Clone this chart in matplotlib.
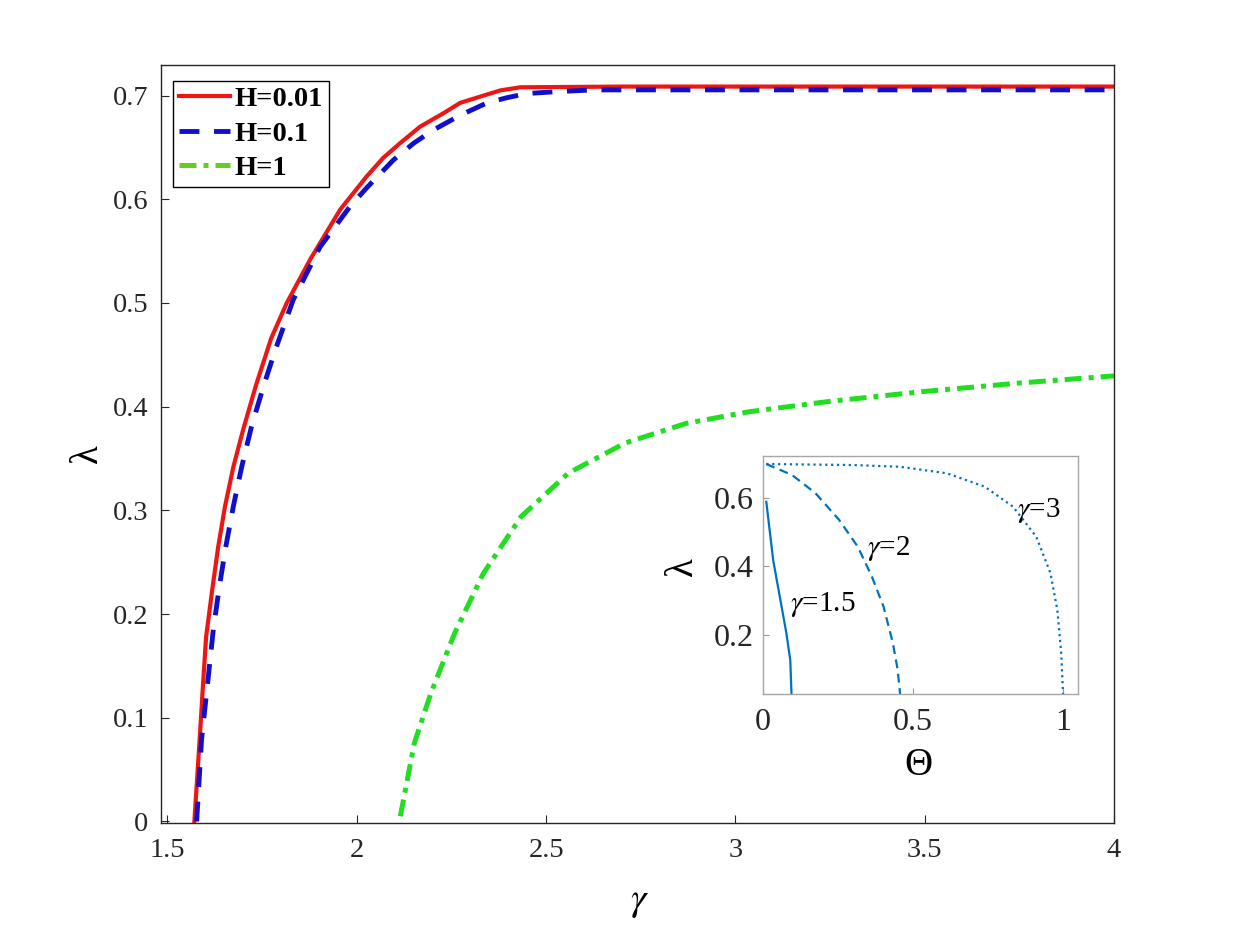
import numpy as np
import matplotlib
matplotlib.use("Agg")
from matplotlib import pyplot as plt

# main curves: lambda vs gamma for three H values
gamma_h001 = [1.571, 1.577, 1.586, 1.594, 1.602, 1.618, 1.634, 1.652, 1.674, 1.700,
              1.734, 1.774, 1.815, 1.877, 1.956, 1.991, 2.026, 2.070, 2.114, 2.167,
              2.229, 2.273, 2.326, 2.379, 2.432, 2.7, 3.0, 3.5, 4.0]
lam_h001 = [0.0, 0.034, 0.085, 0.133, 0.178, 0.223, 0.265, 0.304, 0.342, 0.378,
            0.421, 0.466, 0.500, 0.542, 0.590, 0.606, 0.622, 0.640, 0.654, 0.670,
            0.683, 0.693, 0.699, 0.705, 0.708, 0.7087, 0.7087, 0.7087, 0.7087]

gamma_h01 = [1.577, 1.590, 1.608, 1.621, 1.637, 1.654, 1.674, 1.696, 1.722, 1.753,
             1.785, 1.832, 1.903, 1.982, 2.026, 2.097, 2.150, 2.203, 2.273, 2.344,
             2.397, 2.449, 2.538, 2.626, 3.0, 3.5, 4.0]
lam_h01 = [0.0, 0.079, 0.140, 0.185, 0.2265, 0.265, 0.304, 0.342, 0.381, 0.419,
           0.455, 0.503, 0.554, 0.593, 0.611, 0.638, 0.654, 0.667, 0.681, 0.693,
           0.698, 0.702, 0.704, 0.7055, 0.7055, 0.7055, 0.7055]

gamma_h1 = [2.115, 2.152, 2.196, 2.259, 2.334, 2.434, 2.559, 2.709, 2.871, 3.034,
            3.246, 3.496, 3.746, 4.0]
lam_h1 = [0.005, 0.0755, 0.124, 0.182, 0.239, 0.294, 0.336, 0.365, 0.384, 0.395,
          0.405, 0.4146, 0.4227, 0.4297]

labels = ['H=0.01', 'H=0.1', 'H=1']

# inset: lambda vs Theta
theta_g15 = [0.011, 0.034, 0.058, 0.078, 0.091, 0.095]
lam_g15 = [0.588, 0.418, 0.302, 0.205, 0.127, 0.028]

theta_g2 = [0.011, 0.097, 0.175, 0.254, 0.316, 0.363, 0.402, 0.433, 0.449, 0.457]
lam_g2 = [0.698, 0.666, 0.613, 0.535, 0.457, 0.370, 0.282, 0.176, 0.098, 0.028]

theta_g3 = [0.011, 0.30, 0.457, 0.613, 0.739, 0.833, 0.911, 0.958, 0.981, 0.994, 1.0]
lam_g3 = [0.698, 0.695, 0.690, 0.671, 0.632, 0.574, 0.486, 0.380, 0.273, 0.147, 0.028]

plt.rcParams['font.family'] = ['Liberation Serif', 'DejaVu Serif']
plt.rcParams['mathtext.fontset'] = 'stix'

fig = plt.figure(figsize=(12.36, 9.26), dpi=100)
ax = fig.add_axes([0.1303, 0.1112, 0.771, 0.8186])

ax.plot(gamma_h001, lam_h001, color='#ee1515', lw=3.0, label=labels[0])
ax.plot(gamma_h01, lam_h01, color='#1010cc', lw=3.5, dashes=(4.1, 3.0), label=labels[1])
ax.plot(gamma_h1, lam_h1, color='#22dd22', lw=3.6, dashes=(3.4, 1.4, 1.0, 1.4), label=labels[2])

ax.set_xlim(1.483, 4.0)
ax.set_ylim(-0.0015, 0.7295)
ax.set_xticks([1.5, 2, 2.5, 3, 3.5, 4])
ax.set_xticklabels(['1.5', '2', '2.5', '3', '3.5', '4'])
ax.set_yticks([0, 0.1, 0.2, 0.3, 0.4, 0.5, 0.6, 0.7])
ax.set_yticklabels(['0', '0.1', '0.2', '0.3', '0.4', '0.5', '0.6', '0.7'])
ax.tick_params(direction='in', length=6, width=0.8, labelsize=20.5, colors='#262626')
ax.tick_params(axis='x', pad=11)
ax.tick_params(axis='y', pad=9)
for s in ax.spines.values():
    s.set_color('#262626')
    s.set_linewidth(1.0)

ax.text(0.5026, -0.104, r'$\gamma$', transform=ax.transAxes, ha='center', va='center',
        fontsize=28)
ax.text(-0.077, 0.488, 'λ', transform=ax.transAxes, ha='center', va='center',
        fontsize=28, rotation=90)

leg = ax.legend(loc='upper left', bbox_to_anchor=(0.0129, 0.9793), borderaxespad=0,
                prop={'weight': 'bold', 'size': 20.5}, fancybox=False, framealpha=1,
                edgecolor='black', handlelength=1.8, handletextpad=0.15,
                labelspacing=0.3, borderpad=0.2)
leg.get_frame().set_linewidth(1.0)
leg.get_lines()[2].set_color('#66cc22')

# inset
ins = fig.add_axes([0.6173, 0.2505, 0.2549, 0.2573])
ins.plot(theta_g15, lam_g15, color='#0072BD', lw=1.6)
ins.plot(theta_g2, lam_g2, color='#0072BD', lw=1.6, dashes=(4, 2.5))
ins.plot(theta_g3, lam_g3, color='#0072BD', lw=1.6, linestyle=':')
ins.set_xlim(0, 1.05)
ins.set_ylim(0.028, 0.722)
ins.set_xticks([0, 0.5, 1])
ins.set_xticklabels(['0', '0.5', '1'])
ins.set_yticks([0.2, 0.4, 0.6])
ins.set_yticklabels(['0.2', '0.4', '0.6'])
ins.tick_params(direction='in', length=4, width=0.8, labelsize=23, colors='#262626')
ins.tick_params(axis='x', pad=10, color='#999999')
ins.tick_params(axis='y', pad=7, color='#999999')
for s in ins.spines.values():
    s.set_color('#a6a6a6')
    s.set_linewidth(1.0)

ins.text(0.09, 0.29, r'$\gamma$=1.5', fontsize=21, ha='left', va='center')
ins.text(0.345, 0.452, r'$\gamma$=2', fontsize=21, ha='left', va='center')
ins.text(0.848, 0.562, r'$\gamma$=3', fontsize=21, ha='left', va='center')
ins.text(-0.254, 0.533, 'λ', transform=ins.transAxes, ha='center', va='center',
         fontsize=28, rotation=90)
ins.text(0.492, -0.298, 'Θ', transform=ins.transAxes, ha='center', va='center', fontsize=28)

fig.savefig('out.png', dpi=100)
